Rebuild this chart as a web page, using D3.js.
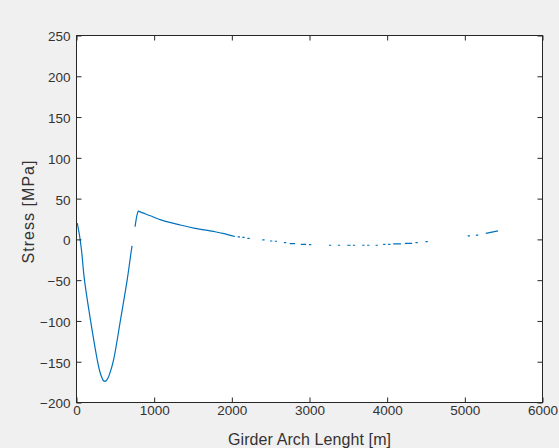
<!DOCTYPE html>
<html>
<head>
<meta charset="utf-8">
<script src="https://cdn.jsdelivr.net/npm/d3@7"></script>
<style>
  html, body { margin: 0; padding: 0; background: #f0f0f0; }
  svg { display: block; }
  text { font-family: "Liberation Sans", Arial, sans-serif; }
</style>
</head>
<body>
<script>
// Stress along the girder arch; NaN entries break the line into separate pieces.
const archLength = [
  10, 40, 64, 103, 180, 266, 300, 325, 345, 364, 385, 405, 430, 479, 566, 652, 707, 716, NaN,
  754, 797, 812, 950, 1096, 1337, 1526, 1783, 1900, 2040, NaN,
  2075, 2105, NaN, 2135, 2165, NaN, 2200, 2230, NaN,
  2392, 2422, NaN, 2491, 2521, NaN, 2552, 2582, NaN, 2671, 2701, NaN,
  2745, 2815, NaN, 2888, 2956, NaN, 2993, 3023, NaN,
  3250, 3280, NaN, 3365, 3395, NaN, 3485, 3530, NaN, 3558, 3588, NaN,
  3678, 3708, NaN, 3742, 3772, NaN, 3850, 3880, NaN, 3948, 3978, NaN,
  4012, 4042, NaN, 4078, 4177, NaN, 4229, 4322, NaN, 4364, 4394, NaN,
  4493, 4523, NaN, 5036, 5066, NaN, 5143, 5173, NaN, 5270, 5428
];
const stress = [
  20, 4, -13, -50, -99, -147, -162, -169, -173, -174, -173, -170, -164, -147, -99, -50, -13, -8, NaN,
  15.5, 34.7, 34.0, 29, 23.7, 17.6, 13.6, 9.4, 7, 3.5, NaN,
  3.0, 3.0, NaN, 2.4, 2.4, NaN, 1.3, 1.3, NaN,
  -0.7, -0.7, NaN, -2.0, -2.0, NaN, -2.3, -2.3, NaN, -4.0, -4.0, NaN,
  -5.3, -5.3, NaN, -6.0, -6.0, NaN, -6.5, -6.5, NaN,
  -7.2, -7.2, NaN, -7.2, -7.2, NaN, -7.2, -7.2, NaN, -7.2, -7.2, NaN,
  -7.2, -7.2, NaN, -7.2, -7.2, NaN, -7.2, -7.2, NaN, -6.2, -6.2, NaN,
  -6.0, -6.0, NaN, -5.6, -5.6, NaN, -4.8, -4.8, NaN, -4.0, -4.0, NaN,
  -2.8, -2.8, NaN, 4.4, 4.4, NaN, 5.3, 5.3, NaN, 7.3, 10.5
];

const xTicks = [0, 1000, 2000, 3000, 4000, 5000, 6000];
const yTicks = [-200, -150, -100, -50, 0, 50, 100, 150, 200, 250];
const xTitle = "Girder Arch Lenght [m]";
const yTitle = "Stress [MPa]";

const W = 559, H = 448;
const box = { left: 76.5, right: 542.5, top: 35.5, bottom: 402.5 };
const axisColor = "#262626";
const textColor = "#333333";
const lineColor = "#0072BD";

const svg = d3.select("body").append("svg")
  .attr("width", W).attr("height", H);

svg.append("rect").attr("width", W).attr("height", H).attr("fill", "#f0f0f0");

const x = d3.scaleLinear().domain([0, 6000]).range([box.left, box.right]);
const y = d3.scaleLinear().domain([-200, 250]).range([box.bottom, box.top]);

// plotting area
svg.append("rect")
  .attr("x", box.left).attr("y", box.top)
  .attr("width", box.right - box.left).attr("height", box.bottom - box.top)
  .attr("fill", "#ffffff");

// data line
const points = archLength.map((v, i) => [v, stress[i]]);
const line = d3.line()
  .defined(d => !Number.isNaN(d[0]) && !Number.isNaN(d[1]))
  .x(d => x(d[0])).y(d => y(d[1]))
  .curve(d3.curveCatmullRom.alpha(0.5));

svg.append("path")
  .datum(points)
  .attr("d", line)
  .attr("fill", "none")
  .attr("stroke", lineColor)
  .attr("stroke-width", 1.2)
  .attr("stroke-linejoin", "round");

// axes with inward ticks
const fmt = d3.format("d");
function styleAxis(g) {
  g.select(".domain").remove();
  g.selectAll(".tick line").attr("stroke", axisColor);
  g.selectAll(".tick text")
    .attr("fill", textColor)
    .style("font-size", "13.5px")
    .style("font-family", "'Liberation Sans', Arial, sans-serif");
}

svg.append("g")
  .attr("transform", `translate(0,${box.bottom})`)
  .call(d3.axisBottom(x).tickValues(xTicks).tickFormat(fmt)
    .tickSizeInner(-5).tickSizeOuter(0).tickPadding(3))
  .call(styleAxis);

svg.append("g")
  .attr("transform", `translate(0,${box.top})`)
  .call(d3.axisTop(x).tickValues(xTicks).tickSizeInner(-5).tickSizeOuter(0).tickFormat(""))
  .call(styleAxis);

svg.append("g")
  .attr("transform", `translate(${box.left},0)`)
  .call(d3.axisLeft(y).tickValues(yTicks).tickFormat(fmt)
    .tickSizeInner(-5).tickSizeOuter(0).tickPadding(6))
  .call(styleAxis)
  .selectAll(".tick text").attr("dy", "0.40em");

svg.append("g")
  .attr("transform", `translate(${box.right},0)`)
  .call(d3.axisRight(y).tickValues(yTicks).tickSizeInner(-5).tickSizeOuter(0).tickFormat(""))
  .call(styleAxis);

// frame
svg.append("rect")
  .attr("x", box.left).attr("y", box.top)
  .attr("width", box.right - box.left).attr("height", box.bottom - box.top)
  .attr("fill", "none")
  .attr("stroke", axisColor)
  .attr("stroke-width", 1);

// axis titles
svg.append("text")
  .attr("x", (box.left + box.right) / 2)
  .attr("y", 445)
  .attr("text-anchor", "middle")
  .attr("fill", textColor)
  .attr("textLength", 163)
  .attr("lengthAdjust", "spacing")
  .style("font-size", "16px")
  .text(xTitle);

svg.append("text")
  .attr("transform", "translate(34,212) rotate(-90)")
  .attr("text-anchor", "middle")
  .attr("fill", textColor)
  .attr("textLength", 103)
  .attr("lengthAdjust", "spacing")
  .style("font-size", "16px")
  .text(yTitle);
</script>
</body>
</html>
